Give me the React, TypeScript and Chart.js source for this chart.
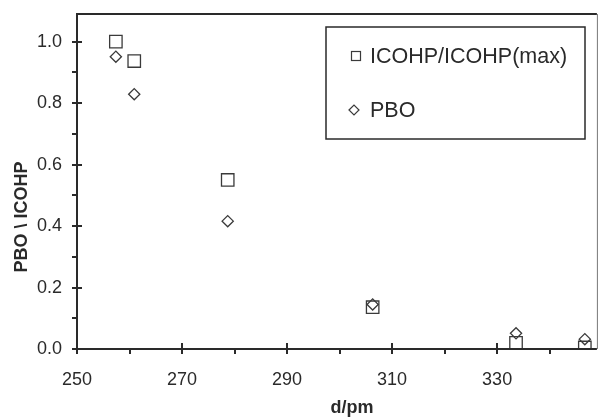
import React, { useEffect, useRef } from "react";
import { Chart, registerables } from "chart.js";

Chart.register(...registerables);

const distances = [257.4, 260.9, 278.7, 306.3, 333.6, 346.7];
const icohpValues = [1.0, 0.937, 0.55, 0.136, 0.02, 0.005];
const pboValues = [0.951, 0.829, 0.416, 0.145, 0.051, 0.032];

const seriesLabels = ["ICOHP/ICOHP(max)", "PBO"];
const xMajorTicks = [250, 270, 290, 310, 330];
const xMinorTicks = [260, 280, 300, 320, 340];
const yMajorTicks = [0, 0.2, 0.4, 0.6, 0.8, 1.0];
const yMinorTicks = [0.1, 0.3, 0.5, 0.7, 0.9];
const xTitle = "d/pm";
const yTitle = "PBO \\ ICOHP";

const INK = "#2a2a2a";
const FONT = "'Liberation Sans', Arial, sans-serif";

const decorPlugin = {
  id: "decor",
  afterDraw(chart: any) {
    const { ctx, chartArea, scales } = chart;
    const x = scales.x;
    const y = scales.y;
    const { left, right, top, bottom } = chartArea;
    ctx.save();
    // frame: top and right
    ctx.strokeStyle = INK;
    ctx.lineWidth = 2;
    ctx.beginPath();
    ctx.moveTo(left, top);
    ctx.lineTo(right, top);
    ctx.stroke();
    ctx.strokeStyle = "#777";
    ctx.lineWidth = 1;
    ctx.beginPath();
    ctx.moveTo(right + 0.5, top);
    ctx.lineTo(right + 0.5, bottom);
    ctx.stroke();
    // axes
    ctx.strokeStyle = INK;
    ctx.lineWidth = 2;
    ctx.beginPath();
    ctx.moveTo(left, top - 1);
    ctx.lineTo(left, bottom);
    ctx.lineTo(right, bottom);
    ctx.stroke();
    // ticks
    ctx.beginPath();
    xMajorTicks.forEach((v) => {
      const px = Math.round(x.getPixelForValue(v));
      ctx.moveTo(px, bottom - 6);
      ctx.lineTo(px, bottom + 5);
    });
    xMinorTicks.forEach((v) => {
      const px = Math.round(x.getPixelForValue(v));
      if (px < right - 2) {
        ctx.moveTo(px, bottom);
        ctx.lineTo(px, bottom + 5);
      }
    });
    yMajorTicks.forEach((v) => {
      const py = Math.round(y.getPixelForValue(v));
      ctx.moveTo(left - 5, py);
      ctx.lineTo(left + 5, py);
    });
    yMinorTicks.forEach((v) => {
      const py = Math.round(y.getPixelForValue(v));
      ctx.moveTo(left - 5, py);
      ctx.lineTo(left, py);
    });
    ctx.stroke();

    // axis titles
    ctx.fillStyle = INK;
    ctx.font = `bold 18px ${FONT}`;
    ctx.textAlign = "center";
    ctx.textBaseline = "alphabetic";
    ctx.fillText(xTitle, 352, 413);
    ctx.save();
    ctx.translate(27, 217);
    ctx.rotate(-Math.PI / 2);
    ctx.fillText(yTitle, 0, 0);
    ctx.restore();

    // legend box
    const bx = 326, by = 27, bw = 259, bh = 112;
    ctx.strokeStyle = INK;
    ctx.lineWidth = 1.5;
    ctx.strokeRect(bx, by, bw, bh);
    ctx.font = `21.5px ${FONT}`;
    ctx.textAlign = "left";
    ctx.textBaseline = "middle";
    ctx.fillStyle = INK;
    const rows = [56, 110];
    ctx.strokeStyle = "#3a3a3a";
    ctx.lineWidth = 1.2;
    // square
    ctx.strokeRect(351.5, rows[0] - 4.5, 9, 9);
    // diamond
    ctx.beginPath();
    ctx.moveTo(354 - 5, rows[1]);
    ctx.lineTo(354, rows[1] - 5);
    ctx.lineTo(354 + 5, rows[1]);
    ctx.lineTo(354, rows[1] + 5);
    ctx.closePath();
    ctx.stroke();
    ctx.fillText(seriesLabels[0], 370, rows[0] + 1);
    ctx.fillText(seriesLabels[1], 370, rows[1] + 1);
    ctx.restore();
  },
};

export default function App() {
  const ref = useRef<HTMLCanvasElement | null>(null);
  useEffect(() => {
    if (!ref.current) return;
    const chart = new Chart(ref.current, {
      type: "scatter",
      data: {
        datasets: [
          {
            label: seriesLabels[0],
            data: distances.map((d, i) => ({ x: d, y: icohpValues[i] })),
            pointStyle: "rect",
            pointRadius: 8.8,
            pointHoverRadius: 8.8,
            backgroundColor: "rgba(0,0,0,0)",
            borderColor: "#3a3a3a",
            borderWidth: 1.3,
          },
          {
            label: seriesLabels[1],
            data: distances.map((d, i) => ({ x: d, y: pboValues[i] })),
            pointStyle: "rectRot",
            pointRadius: 5.6,
            pointHoverRadius: 5.6,
            backgroundColor: "rgba(0,0,0,0)",
            borderColor: "#3a3a3a",
            borderWidth: 1.3,
          },
        ],
      },
      options: {
        responsive: false,
        animation: false,
        devicePixelRatio: 1,
        events: [],
        layout: { padding: { top: 14, right: 0, left: 0, bottom: 0 } },
        plugins: {
          legend: { display: false },
          tooltip: { enabled: false },
        },
        scales: {
          x: {
            type: "linear",
            min: 250,
            max: 349,
            grid: { display: false, drawTicks: false },
            border: { display: false },
            afterBuildTicks: (s: any) => {
              s.ticks = xMajorTicks.map((v) => ({ value: v }));
            },
            afterFit: (s: any) => {
              s.height = 69;
              s.paddingLeft = 0;
              s.paddingRight = 0;
            },
            ticks: {
              padding: 20,
              color: INK,
              font: { family: FONT, size: 18 },
              maxRotation: 0,
              callback: (v: any) => String(v),
            },
          },
          y: {
            type: "linear",
            min: 0,
            max: 1.09,
            grid: { display: false, drawTicks: false },
            border: { display: false },
            afterBuildTicks: (s: any) => {
              s.ticks = yMajorTicks.map((v) => ({ value: v }));
            },
            afterFit: (s: any) => {
              s.width = 77;
              s.paddingTop = 0;
              s.paddingBottom = 0;
            },
            ticks: {
              padding: 15,
              color: INK,
              font: { family: FONT, size: 18 },
              callback: (v: any) => Number(v).toFixed(1),
            },
          },
        },
      },
      plugins: [decorPlugin],
    });
    return () => chart.destroy();
  }, []);
  return (
    <div style={{ position: "fixed", left: 0, top: 0, width: 600, height: 418, overflow: "hidden", background: "#fff" }}>
      <canvas ref={ref} width={607} height={418} />
    </div>
  );
}
